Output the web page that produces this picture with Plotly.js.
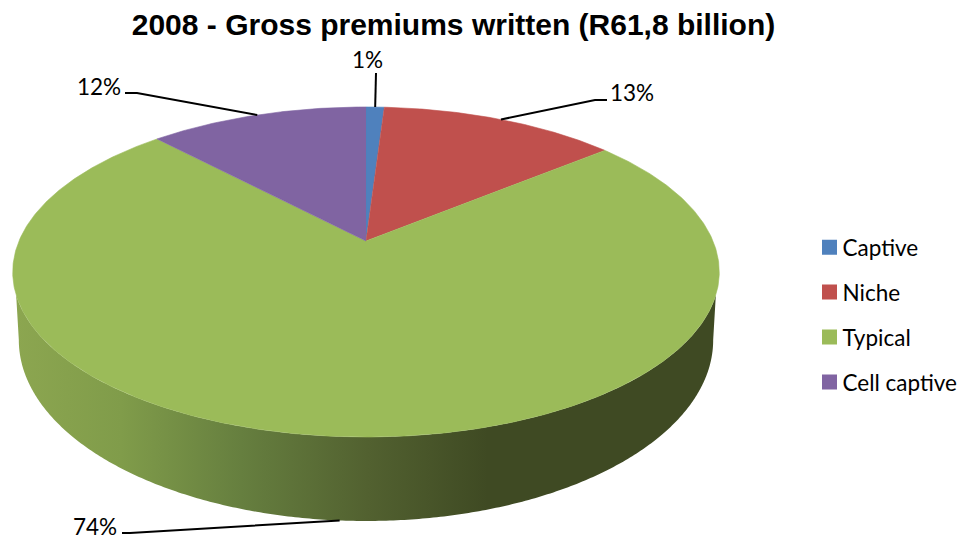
<!DOCTYPE html>
<html>
<head>
<meta charset="utf-8">
<script src="https://cdn.plot.ly/plotly-3.0.1.min.js"></script>
<style>html,body{margin:0;padding:0;background:#fff}#chart{width:964px;height:540px}</style>
</head>
<body>
<div id="chart"></div>
<script>
// Share of gross premiums written, 2008
const categories = ['Captive', 'Niche', 'Typical', 'Cell captive'];
const shares = [1, 13, 74, 12];
const sliceColors = ['#4f81bd', '#c0504d', '#9bbb59', '#8064a2'];
const chartTitle = '2008 - Gross premiums written (R61,8 billion)';

// Perspective of the tilted disc; angles run clockwise from the back of the disc.
const tilt = 0.1879;
const topRing = {cx: 366, cy: 241, a: 347, b: 159.2};
const bottomRing = {cx: 366, cy: 306, a: 341, b: 174.6};

function project(ring, deg) {
  const t = deg * Math.PI / 180, u = Math.sin(t), v = Math.cos(t), w = 1 + tilt * v;
  return [ring.cx + ring.a * u / w, ring.cy - ring.b * v / w];
}
function arc(ring, from, to, out) {
  const n = Math.max(2, Math.ceil(Math.abs(to - from) * 2));
  for (let i = 0; i <= n; i++) out.push(project(ring, from + (to - from) * i / n));
  return out;
}
const xs = pts => pts.map(p => p[0]);
const ys = pts => pts.map(p => p[1]);

const total = shares.reduce((a, b) => a + b, 0);
const traces = [];

// Outer wall below the disc, shaded from left to right
const wall = arc(topRing, 251.4, 108.6, arc(bottomRing, 100.8, 259.2, []));
traces.push({
  type: 'scatter', mode: 'none', x: xs(wall), y: ys(wall), fill: 'toself',
  fillgradient: {
    type: 'horizontal', start: 15, stop: 720,
    colorscale: [[0, '#8ca650'], [0.15, '#809c4a'], [0.32, '#667f3f'], [0.5, '#526130'], [0.67, '#3f4a23'], [1, '#3f4a23']]
  },
  hoverinfo: 'skip', showlegend: false
});

// Top face slices and their leader-line anchors
let running = 0;
const midAngles = shares.map((value, i) => {
  const start = running / total * 360;
  running += value;
  const end = running / total * 360;
  const pts = arc(topRing, start, end, [[topRing.cx, topRing.cy]]);
  traces.push({
    type: 'scatter', mode: 'lines', x: xs(pts), y: ys(pts), fill: 'toself',
    fillcolor: sliceColors[i], line: {color: sliceColors[i], width: 0.6},
    name: categories[i], legendgroup: categories[i], showlegend: false,
    hovertemplate: categories[i] + ': ' + value + '%<extra></extra>'
  });
  return (start + end) / 2;
});

// Data labels: text centre and elbow of the leader line
const labelAt = [[367, 59], [632, 92], [95, 526], [99, 86]];
const elbows = [
  [[376, 73]],
  [[607, 100], [595, 100]],
  [[122, 533], [130, 533]],
  [[125, 93], [137, 93]]
];
shares.forEach((value, i) => {
  const ring = project(topRing, midAngles[i])[1] > 272 ? bottomRing : topRing;
  const line = elbows[i].concat([project(ring, midAngles[i])]);
  traces.push({
    type: 'scatter', mode: 'lines', x: xs(line), y: ys(line),
    line: {color: '#000', width: 2}, hoverinfo: 'skip', showlegend: false
  });
});

// Legend keys
categories.forEach((name, i) => {
  traces.push({
    type: 'scatter', mode: 'markers', x: [null], y: [null], name: name, legendgroup: name,
    marker: {symbol: 'square', size: 15, color: sliceColors[i], line: {width: 0}},
    hoverinfo: 'skip'
  });
});

const labelFont = {family: 'Lato, "Open Sans", sans-serif', size: 22.5, color: '#000'};
const annotations = shares.map((value, i) => ({
  xref: 'x', yref: 'y', x: labelAt[i][0], y: labelAt[i][1], text: value + '%',
  showarrow: false, xanchor: 'center', yanchor: 'middle', font: labelFont
}));

const layout = {
  width: 964, height: 540,
  margin: {l: 0, r: 0, t: 0, b: 0},
  paper_bgcolor: '#fff', plot_bgcolor: '#fff',
  title: {
    text: '<b>' + chartTitle + '</b>', x: 453.5 / 964, xanchor: 'center', xref: 'paper',
    y: 1 - 24.5 / 540, yanchor: 'middle', yref: 'paper',
    font: {family: '"Liberation Sans", Arial, sans-serif', size: 30, color: '#000'}
  },
  xaxis: {visible: false, range: [0, 964], fixedrange: true},
  yaxis: {visible: false, range: [540, 0], fixedrange: true},
  showlegend: true,
  legend: {
    x: 802.5 / 964, xanchor: 'left', y: 1 - 226 / 540, yanchor: 'top',
    font: labelFont, traceorder: 'grouped', tracegroupgap: 12.7,
    bgcolor: 'rgba(0,0,0,0)', borderwidth: 0
  },
  annotations: annotations
};

Plotly.newPlot('chart', traces, layout, {displayModeBar: false}).then(() => {
  // Tighten the gap between each legend key and its text
  document.querySelectorAll('#chart .legend .legendsymbols').forEach(g => {
    g.setAttribute('transform', 'translate(7,0)');
  });
});
</script>
</body>
</html>
